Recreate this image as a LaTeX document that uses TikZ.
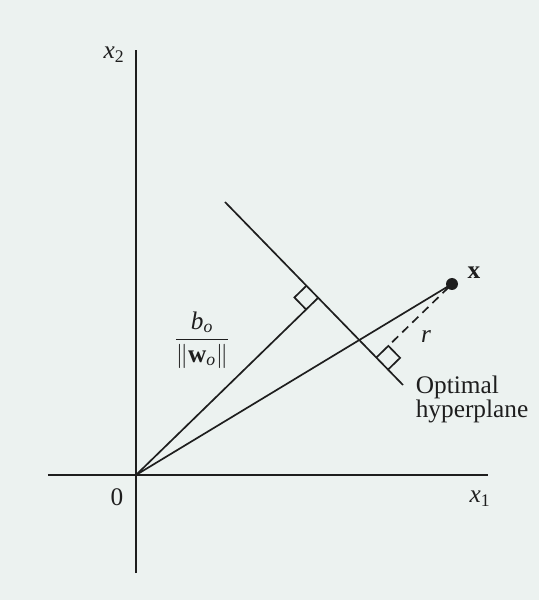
\documentclass[tikz,border=0pt]{standalone}
\usepackage{fontspec}
\setmainfont{Liberation Serif}
\usetikzlibrary{calc}
\definecolor{paper}{RGB}{236,242,240}
\definecolor{ink}{RGB}{30,30,30}
\newcommand{\var}[2]{\textit{#1}\textsubscript{#2}}

\begin{document}
\begin{tikzpicture}[line width=1.2pt, draw=ink, every node/.style={font=\fontsize{18}{17}\selectfont, text=ink}]
  % background
  \fill[paper] (-3.4,-3.125) rectangle (10.075,11.875);

  % axes
  \coordinate (O) at (0,0);
  \coordinate (xl) at (-2.2,0);
  \coordinate (xr) at (8.8,0);
  \coordinate (yb) at (0,-2.45);
  \coordinate (yt) at (0,10.625);
  \draw[ink] (xl) -- (xr);
  \draw[ink] (yb) -- (yt);
  \node (zero) at (-0.475,-0.55) {0};
  \node (xone) at (8.6,-0.6) {\var{x}{1}};
  \node (xtwo) at (-0.55,10.5) {\var{x}{2}};

  % hyperplane
  \coordinate (A) at (2.225,6.825);
  \coordinate (B) at (6.675,2.25);
  \draw[ink] (A) -- (B);
  \node[anchor=north west, align=left, inner sep=0pt] (hp) at (6.975,2.5) {Optimal\\hyperplane};

  % point x
  \coordinate (X) at (7.9,4.775);
  \fill[ink] (X) circle (0.15);
  \node (xlab) at (8.45,5.05) {\textbf{x}};
  \draw[ink] (O) -- (X);

  % perpendicular from origin
  \coordinate (P) at ($(A)!(O)!(B)$);
  \coordinate (Pa) at ($(P)!0.42cm!(A)$);
  \coordinate (Po) at ($(P)!0.42cm!(O)$);
  \draw[ink] (O) -- (P);
  \draw[ink] (Pa) -- ($(Pa)+(Po)-(P)$) -- (Po);
  \node (frac) at (1.65,3.375) {$\displaystyle\frac{\var{b}{\textit{o}}}{\|\textbf{w}\textsubscript{\textit{o}}\|}$};

  % distance r
  \coordinate (Q) at ($(A)!(X)!(B)$);
  \coordinate (Qb) at ($(Q)!0.42cm!(B)$);
  \coordinate (Qx) at ($(Q)!0.42cm!(X)$);
  \draw[ink] (Q) -- (Qx) -- ($(Qx)+(Qb)-(Q)$) -- (Qb);
  \draw[ink, dash pattern=on 6pt off 4pt, shorten <=0.12cm] (X) -- (Qx);
  \node (r) at (7.25,3.45) {\textit{r}};
\end{tikzpicture}
\end{document}
